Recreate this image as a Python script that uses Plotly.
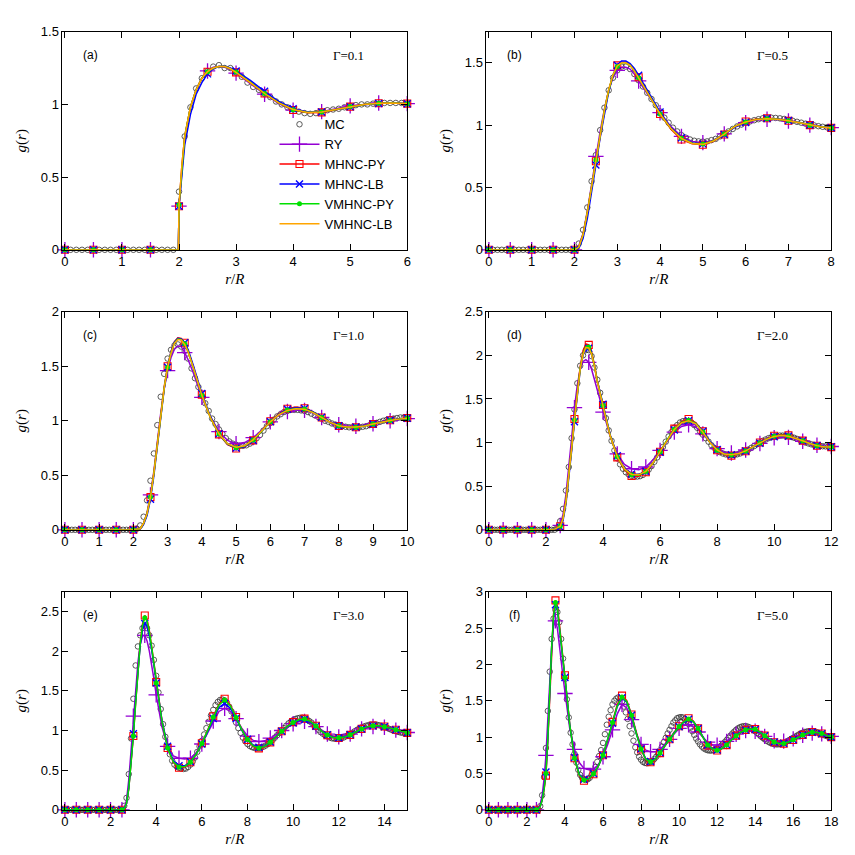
import numpy as np
import plotly.graph_objects as go

# ---------------- DATA ----------------
# MC simulation points (r/R on a 0.1 grid starting at 0)
g_mc_a = [0.0, 0.0, 0.0, 0.0, 0.0, 0.0, 0.0, 0.0, 0.0, 0.0, 0.0, 0.0, 0.0, 0.0, 0.0, 0.0, 0.0, 0.0, 0.0, 0.0,
          0.40, 0.78, 0.98, 1.11, 1.18, 1.23, 1.26, 1.27, 1.25, 1.25,
          1.22, 1.19, 1.15, 1.12, 1.10, 1.07, 1.05, 1.02, 1.0, 0.98,
          0.965, 0.95, 0.94, 0.935, 0.94, 0.95, 0.96, 0.965, 0.97, 0.98,
          0.99, 0.995, 1.0, 1.0, 1.005, 1.005, 1.01, 1.01, 1.01, 1.01, 1.005]
g_mc_b = [0.0, 0.0, 0.0, 0.0, 0.0, 0.0, 0.0, 0.0, 0.0, 0.0, 0.0, 0.0, 0.0, 0.0, 0.0, 0.0, 0.0, 0.0, 0.0, 0.0, 0.0,
          0.05, 0.16, 0.34, 0.55, 0.76, 0.96, 1.14, 1.28, 1.38,
          1.44, 1.47, 1.47, 1.45, 1.41, 1.36, 1.31, 1.26, 1.21, 1.16,
          1.11, 1.06, 1.02, 0.98, 0.95, 0.92, 0.90, 0.885, 0.875, 0.87,
          0.868, 0.87, 0.88, 0.89, 0.91, 0.93, 0.95, 0.97, 0.99, 1.005,
          1.02, 1.03, 1.04, 1.048, 1.055, 1.058, 1.06, 1.058, 1.055, 1.05,
          1.042, 1.035, 1.027, 1.02, 1.012, 1.005, 0.998, 0.992, 0.987, 0.983, 0.98]
g_mc_c = [0.0, 0.0, 0.0, 0.0, 0.0, 0.0, 0.0, 0.0, 0.0, 0.0, 0.0, 0.0, 0.0, 0.0, 0.0, 0.0, 0.0, 0.0, 0.0, 0.0, 0.0,
          0.01, 0.04, 0.12, 0.27, 0.45, 0.70, 0.96, 1.22, 1.43,
          1.57, 1.65, 1.69, 1.70, 1.68, 1.64, 1.57, 1.48, 1.39, 1.31,
          1.23, 1.16, 1.09, 1.02, 0.97, 0.92, 0.88, 0.84, 0.81, 0.79,
          0.78, 0.77, 0.77, 0.775, 0.79, 0.81, 0.84, 0.87, 0.91, 0.95,
          0.98, 1.01, 1.04, 1.06, 1.08, 1.09, 1.10, 1.10, 1.10, 1.095,
          1.09, 1.08, 1.065, 1.05, 1.035, 1.02, 1.0, 0.99, 0.975, 0.965,
          0.955, 0.95, 0.945, 0.94, 0.94, 0.94, 0.94, 0.945, 0.95, 0.96,
          0.97, 0.98, 0.99, 1.0, 1.008, 1.015, 1.02, 1.025, 1.03, 1.03, 1.03]
g_mc_d = [0.0, 0.0, 0.0, 0.0, 0.0, 0.0, 0.0, 0.0, 0.0, 0.0, 0.0, 0.0, 0.0, 0.0, 0.0, 0.0, 0.0, 0.0, 0.0, 0.0,
          0.0, 0.0, 0.0, 0.0,
          0.02, 0.10, 0.24, 0.45, 0.72, 1.05,
          1.38, 1.68, 1.88, 2.0, 2.06, 2.06, 1.99, 1.86, 1.72, 1.57,
          1.43, 1.28, 1.14, 1.02, 0.91, 0.82, 0.75, 0.70, 0.66, 0.635,
          0.62, 0.61, 0.61, 0.615, 0.63, 0.655, 0.69, 0.73, 0.78, 0.83,
          0.89, 0.95, 1.01, 1.07, 1.12, 1.17, 1.20, 1.23, 1.245, 1.25,
          1.245, 1.23, 1.20, 1.17, 1.13, 1.09, 1.05, 1.01, 0.97, 0.94,
          0.91, 0.89, 0.875, 0.865, 0.858, 0.855, 0.858, 0.865, 0.875, 0.89,
          0.905, 0.92, 0.94, 0.96, 0.98, 1.0, 1.02, 1.035, 1.05, 1.06,
          1.07, 1.075, 1.08, 1.08, 1.078, 1.073, 1.065, 1.055, 1.042, 1.03,
          1.015, 1.0, 0.99, 0.98, 0.972, 0.966, 0.962, 0.958, 0.956, 0.955, 0.955]
g_mc_e = [0.0, 0.0, 0.0, 0.0, 0.0, 0.0, 0.0, 0.0, 0.0, 0.0, 0.0, 0.0, 0.0, 0.0, 0.0, 0.0, 0.0, 0.0, 0.0, 0.0,
          0.0, 0.0, 0.0, 0.0, 0.0, 0.0,
          0.05, 0.15, 0.45, 0.90,
          1.40, 1.82, 2.06, 2.20, 2.29, 2.32, 2.29, 2.20, 2.07, 1.89,
          1.69, 1.48, 1.27, 1.08, 0.92, 0.80, 0.70, 0.62, 0.57, 0.545,
          0.53, 0.52, 0.515, 0.52, 0.54, 0.57, 0.61, 0.66, 0.73, 0.80,
          0.87, 0.95, 1.03, 1.11, 1.19, 1.26, 1.32, 1.36, 1.385, 1.39,
          1.38, 1.35, 1.30, 1.24, 1.17, 1.10, 1.03, 0.97, 0.91, 0.865,
          0.83, 0.805, 0.79, 0.78, 0.778, 0.78, 0.785, 0.795, 0.81, 0.83,
          0.855, 0.88, 0.91, 0.94, 0.97, 1.0, 1.03, 1.06, 1.09, 1.11,
          1.13, 1.145, 1.155, 1.16, 1.16, 1.155, 1.14, 1.12, 1.10, 1.07,
          1.04, 1.01, 0.98, 0.96, 0.94, 0.925, 0.912, 0.902, 0.897, 0.895,
          0.897, 0.902, 0.91, 0.925, 0.94, 0.955, 0.972, 0.99, 1.008, 1.025,
          1.04, 1.05, 1.06, 1.068, 1.073, 1.075, 1.075, 1.07, 1.063, 1.055,
          1.045, 1.035, 1.022, 1.01, 1.0, 0.99, 0.982, 0.975, 0.97, 0.965, 0.962]
g_mc_f = [0.0, 0.0, 0.0, 0.0, 0.0, 0.0, 0.0, 0.0, 0.0, 0.0, 0.0, 0.0, 0.0, 0.0, 0.0, 0.0, 0.0, 0.0, 0.0, 0.0,
          0.0, 0.0, 0.0, 0.0, 0.0, 0.0, 0.0,
          0.05, 0.20, 0.45,
          0.85, 1.36, 1.90, 2.35, 2.63, 2.75, 2.72, 2.58, 2.35, 2.08,
          1.80, 1.52, 1.27, 1.06, 0.90, 0.77, 0.65, 0.55, 0.48, 0.44,
          0.42, 0.41, 0.42, 0.44, 0.48, 0.53, 0.59, 0.66, 0.74, 0.82,
          0.92, 1.04, 1.17, 1.28, 1.37, 1.45, 1.50, 1.53, 1.545, 1.53,
          1.49, 1.42, 1.34, 1.25, 1.15, 1.05, 0.95, 0.86, 0.79, 0.73,
          0.69, 0.66, 0.645, 0.64, 0.645, 0.655, 0.67, 0.70, 0.73, 0.77,
          0.82, 0.87, 0.93, 0.99, 1.05, 1.10, 1.15, 1.20, 1.23, 1.26,
          1.27, 1.275, 1.27, 1.25, 1.22, 1.18, 1.13, 1.08, 1.03, 0.98,
          0.94, 0.90, 0.87, 0.845, 0.83, 0.82, 0.815, 0.815, 0.82, 0.83,
          0.845, 0.86, 0.88, 0.905, 0.93, 0.96, 0.99, 1.02, 1.05, 1.075,
          1.10, 1.12, 1.135, 1.145, 1.15, 1.15, 1.145, 1.135, 1.12, 1.10,
          1.08, 1.06, 1.035, 1.01, 0.99, 0.97, 0.95, 0.935, 0.92, 0.91,
          0.905, 0.90, 0.90, 0.905, 0.91, 0.92, 0.93, 0.945, 0.96, 0.975,
          0.99, 1.005, 1.02, 1.035, 1.05, 1.06, 1.07, 1.075, 1.08, 1.08,
          1.08, 1.075, 1.07, 1.06, 1.05, 1.04, 1.03, 1.02, 1.01, 1.005, 1.0]

# Theory curves: shared r/R grid per panel
r_th_a = [0, 0.5, 1, 1.5, 1.99, 2.0, 2.05, 2.1, 2.2, 2.3, 2.4, 2.5, 2.6, 2.7, 2.8, 2.9, 3.0,
          3.25, 3.5, 3.75, 4.0, 4.25, 4.5, 4.75, 5.0, 5.25, 5.5, 5.75, 6.0]
g_ry_a = [0, 0, 0, 0, 0, 0.30, 0.57, 0.77, 0.98, 1.10, 1.18, 1.23, 1.255, 1.26, 1.255, 1.24, 1.215,
          1.14, 1.07, 1.005, 0.96, 0.945, 0.95, 0.97, 0.99, 1.0, 1.01, 1.01, 1.005]
g_mpy_a = [0, 0, 0, 0, 0, 0.30, 0.58, 0.78, 0.98, 1.10, 1.18, 1.225, 1.25, 1.26, 1.26, 1.245, 1.22,
           1.15, 1.075, 1.01, 0.962, 0.942, 0.945, 0.963, 0.985, 1.0, 1.008, 1.01, 1.005]
g_mlb_a = [0, 0, 0, 0, 0, 0.30, 0.52, 0.72, 0.93, 1.07, 1.15, 1.21, 1.245, 1.26, 1.262, 1.25, 1.23,
           1.165, 1.09, 1.02, 0.97, 0.948, 0.948, 0.963, 0.983, 0.998, 1.007, 1.01, 1.005]
g_vpy_a = [0, 0, 0, 0, 0, 0.31, 0.58, 0.78, 0.98, 1.10, 1.18, 1.225, 1.25, 1.26, 1.26, 1.245, 1.222,
           1.152, 1.075, 1.01, 0.963, 0.944, 0.947, 0.965, 0.986, 1.0, 1.008, 1.01, 1.005]
g_vlb_a = [0, 0, 0, 0, 0, 0.30, 0.58, 0.78, 0.98, 1.10, 1.18, 1.225, 1.25, 1.26, 1.26, 1.245, 1.22,
           1.15, 1.075, 1.01, 0.965, 0.945, 0.948, 0.965, 0.985, 1.0, 1.008, 1.01, 1.005]

r_th_b = [0, 0.5, 1, 1.5, 2.0, 2.1, 2.2, 2.3, 2.4, 2.5, 2.6, 2.7, 2.8, 2.9, 3.0, 3.1, 3.2, 3.3, 3.4, 3.5,
          3.75, 4.0, 4.25, 4.5, 4.75, 5.0, 5.25, 5.5, 5.75, 6.0, 6.25, 6.5, 6.75, 7.0, 7.25, 7.5, 7.75, 8.0]
g_ry_b = [0, 0, 0, 0, 0, 0.03, 0.13, 0.31, 0.52, 0.75, 0.95, 1.13, 1.28, 1.38, 1.44, 1.465, 1.465, 1.45, 1.41, 1.355,
          1.23, 1.10, 0.99, 0.91, 0.87, 0.86, 0.88, 0.93, 0.985, 1.02, 1.04, 1.047, 1.045, 1.033, 1.017, 1.0, 0.988, 0.98]
g_mpy_b = [0, 0, 0, 0, 0, 0.02, 0.12, 0.30, 0.50, 0.71, 0.92, 1.11, 1.28, 1.40, 1.48, 1.505, 1.505, 1.485, 1.44, 1.385,
           1.24, 1.09, 0.97, 0.885, 0.85, 0.843, 0.87, 0.925, 0.99, 1.03, 1.05, 1.056, 1.05, 1.036, 1.018, 1.0, 0.987, 0.978]
g_mlb_b = [0, 0, 0, 0, 0, 0.01, 0.09, 0.25, 0.45, 0.68, 0.90, 1.10, 1.27, 1.40, 1.48, 1.515, 1.515, 1.495, 1.455, 1.40,
           1.255, 1.105, 0.98, 0.90, 0.858, 0.85, 0.873, 0.925, 0.985, 1.022, 1.045, 1.053, 1.05, 1.037, 1.02, 1.002, 0.99, 0.98]
g_vpy_b = [0, 0, 0, 0, 0, 0.02, 0.12, 0.30, 0.50, 0.72, 0.93, 1.12, 1.28, 1.40, 1.47, 1.50, 1.50, 1.48, 1.435, 1.38,
           1.235, 1.09, 0.975, 0.895, 0.855, 0.848, 0.875, 0.93, 0.99, 1.025, 1.045, 1.052, 1.048, 1.035, 1.018, 1.0, 0.988, 0.978]
g_vlb_b = [0, 0, 0, 0, 0, 0.02, 0.12, 0.30, 0.50, 0.72, 0.93, 1.12, 1.285, 1.405, 1.475, 1.50, 1.50, 1.48, 1.435, 1.38,
           1.235, 1.09, 0.975, 0.893, 0.853, 0.846, 0.873, 0.928, 0.99, 1.025, 1.045, 1.052, 1.048, 1.035, 1.018, 1.0, 0.988, 0.978]

r_th_c = [0, 0.5, 1, 1.5, 2.0, 2.2, 2.3, 2.4, 2.5, 2.6, 2.7, 2.8, 2.9, 3.0, 3.1, 3.2, 3.3, 3.4, 3.5, 3.6,
          3.75, 4.0, 4.25, 4.5, 4.75, 5.0, 5.25, 5.5, 5.75, 6.0, 6.25, 6.5, 6.75, 7.0, 7.25, 7.5, 7.75, 8.0,
          8.25, 8.5, 8.75, 9.0, 9.25, 9.5, 9.75, 10.0]
g_ry_c = [0, 0, 0, 0, 0, 0.01, 0.06, 0.16, 0.32, 0.54, 0.81, 1.07, 1.29, 1.46, 1.58, 1.655, 1.685, 1.68, 1.625, 1.56,
          1.44, 1.215, 1.04, 0.90, 0.82, 0.79, 0.80, 0.845, 0.915, 0.99, 1.05, 1.085, 1.10, 1.095, 1.07, 1.03, 0.99, 0.963,
          0.95, 0.95, 0.958, 0.972, 0.988, 1.0, 1.012, 1.02]
g_mpy_c = [0, 0, 0, 0, 0, 0.01, 0.06, 0.15, 0.30, 0.52, 0.80, 1.07, 1.31, 1.50, 1.635, 1.725, 1.76, 1.755, 1.715, 1.645,
           1.50, 1.24, 1.03, 0.875, 0.78, 0.745, 0.76, 0.82, 0.905, 0.995, 1.065, 1.11, 1.125, 1.115, 1.08, 1.03, 0.983, 0.952,
           0.938, 0.94, 0.952, 0.97, 0.99, 1.005, 1.017, 1.025]
g_mlb_c = [0, 0, 0, 0, 0, 0.01, 0.05, 0.13, 0.28, 0.50, 0.78, 1.05, 1.29, 1.49, 1.63, 1.72, 1.755, 1.75, 1.715, 1.65,
           1.51, 1.25, 1.04, 0.88, 0.785, 0.75, 0.762, 0.82, 0.902, 0.99, 1.06, 1.105, 1.12, 1.112, 1.08, 1.032, 0.985, 0.954,
           0.94, 0.942, 0.953, 0.97, 0.99, 1.004, 1.016, 1.023]
g_vpy_c = [0, 0, 0, 0, 0, 0.01, 0.06, 0.15, 0.30, 0.52, 0.80, 1.07, 1.30, 1.49, 1.625, 1.715, 1.75, 1.745, 1.705, 1.635,
           1.49, 1.235, 1.03, 0.878, 0.787, 0.753, 0.767, 0.823, 0.905, 0.99, 1.057, 1.098, 1.113, 1.107, 1.076, 1.03, 0.985, 0.954,
           0.941, 0.941, 0.952, 0.97, 0.988, 1.003, 1.015, 1.022]
g_vlb_c = [0, 0, 0, 0, 0, 0.01, 0.06, 0.15, 0.30, 0.52, 0.80, 1.07, 1.30, 1.49, 1.62, 1.71, 1.745, 1.74, 1.70, 1.63,
           1.49, 1.235, 1.03, 0.88, 0.79, 0.757, 0.77, 0.825, 0.905, 0.99, 1.055, 1.095, 1.11, 1.105, 1.075, 1.03, 0.985, 0.955,
           0.942, 0.942, 0.952, 0.97, 0.988, 1.003, 1.015, 1.022]

r_th_d = [0, 0.5, 1, 1.5, 2.0, 2.25, 2.5, 2.6, 2.7, 2.8, 2.9, 3.0, 3.1, 3.2, 3.3, 3.4, 3.5, 3.6, 3.7, 3.8,
          4.0, 4.25, 4.5, 4.75, 5.0, 5.25, 5.5, 5.75, 6.0, 6.25, 6.5, 6.75, 7.0, 7.25, 7.5, 7.75, 8.0,
          8.25, 8.5, 8.75, 9.0, 9.25, 9.5, 9.75, 10.0, 10.25, 10.5, 10.75, 11.0, 11.25, 11.5, 11.75, 12.0]
g_ry_d = [0, 0, 0, 0, 0, 0.0, 0.05, 0.18, 0.40, 0.70, 1.05, 1.40, 1.66, 1.84, 1.93, 1.95, 1.92, 1.84, 1.72, 1.58,
          1.35, 1.07, 0.87, 0.75, 0.70, 0.69, 0.72, 0.80, 0.91, 1.02, 1.12, 1.185, 1.205, 1.18, 1.10, 1.0, 0.93,
          0.89, 0.88, 0.89, 0.915, 0.95, 0.99, 1.03, 1.055, 1.065, 1.06, 1.04, 1.015, 0.99, 0.97, 0.958, 0.955]
g_mpy_d = [0, 0, 0, 0, 0, 0.0, 0.04, 0.13, 0.32, 0.60, 0.93, 1.27, 1.60, 1.87, 2.05, 2.13, 2.12, 2.04, 1.89, 1.71,
           1.43, 1.08, 0.83, 0.685, 0.618, 0.615, 0.66, 0.76, 0.895, 1.035, 1.16, 1.24, 1.27, 1.23, 1.13, 1.005, 0.912,
           0.862, 0.85, 0.865, 0.9, 0.95, 1.0, 1.045, 1.078, 1.09, 1.082, 1.055, 1.022, 0.99, 0.963, 0.95, 0.948]
g_mlb_d = [0, 0, 0, 0, 0, 0.0, 0.03, 0.11, 0.29, 0.57, 0.90, 1.24, 1.56, 1.83, 2.0, 2.08, 2.08, 2.01, 1.87, 1.71,
           1.44, 1.09, 0.85, 0.705, 0.64, 0.632, 0.67, 0.762, 0.89, 1.025, 1.145, 1.22, 1.25, 1.22, 1.13, 1.01, 0.92,
           0.872, 0.86, 0.873, 0.902, 0.947, 0.993, 1.037, 1.067, 1.078, 1.072, 1.05, 1.022, 0.992, 0.967, 0.955, 0.952]
g_vpy_d = [0, 0, 0, 0, 0, 0.0, 0.04, 0.13, 0.32, 0.60, 0.93, 1.26, 1.58, 1.85, 2.02, 2.10, 2.095, 2.02, 1.88, 1.705,
           1.425, 1.08, 0.838, 0.695, 0.63, 0.625, 0.667, 0.763, 0.895, 1.032, 1.152, 1.23, 1.255, 1.22, 1.122, 1.0, 0.913,
           0.868, 0.857, 0.872, 0.903, 0.95, 0.996, 1.041, 1.072, 1.083, 1.075, 1.052, 1.021, 0.99, 0.964, 0.952, 0.95]
g_vlb_d = [0, 0, 0, 0, 0, 0.0, 0.04, 0.13, 0.32, 0.60, 0.93, 1.26, 1.58, 1.84, 2.01, 2.09, 2.085, 2.01, 1.87, 1.70,
           1.42, 1.08, 0.84, 0.70, 0.635, 0.63, 0.67, 0.765, 0.895, 1.03, 1.15, 1.225, 1.25, 1.215, 1.12, 1.0, 0.915,
           0.87, 0.86, 0.875, 0.905, 0.95, 0.995, 1.04, 1.07, 1.08, 1.072, 1.05, 1.02, 0.99, 0.965, 0.953, 0.95]

r_th_e = [0, 0.5, 1, 1.5, 2.0, 2.5, 2.6, 2.7, 2.8, 2.9, 3.0, 3.1, 3.2, 3.3, 3.4, 3.5, 3.6, 3.7, 3.8, 3.9,
          4.0, 4.25, 4.5, 4.75, 5.0, 5.25, 5.5, 5.75, 6.0, 6.25, 6.5, 6.75, 7.0, 7.25, 7.5, 7.75, 8.0,
          8.25, 8.5, 8.75, 9.0, 9.25, 9.5, 9.75, 10.0, 10.25, 10.5, 10.75, 11.0, 11.25, 11.5, 11.75, 12.0,
          12.25, 12.5, 12.75, 13.0, 13.25, 13.5, 13.75, 14.0, 14.25, 14.5, 14.75, 15.0]
g_ry_e = [0, 0, 0, 0, 0, 0, 0.02, 0.12, 0.38, 0.76, 1.18, 1.55, 1.86, 2.08, 2.19, 2.2, 2.13, 2.0, 1.84, 1.65,
          1.45, 1.05, 0.80, 0.68, 0.65, 0.64, 0.65, 0.72, 0.83, 0.97, 1.12, 1.24, 1.28, 1.24, 1.15, 1.03, 0.93,
          0.875, 0.86, 0.87, 0.905, 0.95, 1.0, 1.045, 1.085, 1.11, 1.115, 1.095, 1.05, 1.0, 0.955, 0.925, 0.92,
          0.93, 0.955, 0.99, 1.02, 1.04, 1.05, 1.05, 1.04, 1.025, 1.005, 0.99, 0.975]
g_mpy_e = [0, 0, 0, 0, 0, 0, 0.01, 0.08, 0.27, 0.58, 0.93, 1.35, 1.77, 2.11, 2.34, 2.45, 2.40, 2.26, 2.06, 1.84,
           1.61, 1.13, 0.78, 0.60, 0.53, 0.54, 0.60, 0.70, 0.84, 1.0, 1.18, 1.33, 1.40, 1.32, 1.17, 1.01, 0.88,
           0.80, 0.775, 0.795, 0.85, 0.92, 0.99, 1.055, 1.105, 1.14, 1.15, 1.12, 1.06, 0.99, 0.94, 0.91, 0.905,
           0.915, 0.945, 0.985, 1.02, 1.048, 1.063, 1.062, 1.05, 1.03, 1.01, 0.99, 0.97]
g_mlb_e = [0, 0, 0, 0, 0, 0, 0.01, 0.08, 0.28, 0.60, 0.96, 1.38, 1.78, 2.08, 2.27, 2.35, 2.31, 2.19, 2.02, 1.82,
           1.60, 1.13, 0.80, 0.62, 0.555, 0.555, 0.605, 0.70, 0.83, 0.985, 1.15, 1.29, 1.34, 1.28, 1.15, 1.005, 0.89,
           0.815, 0.79, 0.805, 0.855, 0.92, 0.99, 1.05, 1.095, 1.125, 1.135, 1.105, 1.055, 0.99, 0.945, 0.915, 0.91,
           0.92, 0.948, 0.985, 1.018, 1.043, 1.057, 1.057, 1.046, 1.029, 1.01, 0.99, 0.973]
g_vpy_e = [0, 0, 0, 0, 0, 0, 0.01, 0.08, 0.27, 0.58, 0.93, 1.34, 1.75, 2.09, 2.32, 2.42, 2.38, 2.24, 2.05, 1.83,
           1.60, 1.12, 0.78, 0.605, 0.54, 0.545, 0.60, 0.70, 0.835, 0.995, 1.17, 1.32, 1.385, 1.31, 1.165, 1.01, 0.885,
           0.805, 0.78, 0.80, 0.852, 0.92, 0.99, 1.053, 1.1, 1.135, 1.145, 1.115, 1.058, 0.99, 0.942, 0.912, 0.907,
           0.917, 0.946, 0.985, 1.02, 1.046, 1.06, 1.06, 1.048, 1.03, 1.01, 0.99, 0.972]

r_th_f = [0, 0.5, 1, 1.5, 2.0, 2.5, 2.6, 2.7, 2.8, 2.9, 3.0, 3.1, 3.2, 3.3, 3.4, 3.5, 3.6, 3.7, 3.8, 3.9, 4.0, 4.1,
          4.25, 4.5, 4.75, 5.0, 5.25, 5.5, 5.75, 6.0, 6.25, 6.5, 6.75, 7.0, 7.25, 7.5, 7.75, 8.0,
          8.25, 8.5, 8.75, 9.0, 9.25, 9.5, 9.75, 10.0, 10.25, 10.5, 10.75, 11.0, 11.25, 11.5, 11.75, 12.0,
          12.25, 12.5, 12.75, 13.0, 13.25, 13.5, 13.75, 14.0, 14.25, 14.5, 14.75, 15.0,
          15.25, 15.5, 15.75, 16.0, 16.25, 16.5, 16.75, 17.0, 17.25, 17.5, 17.75, 18.0]
g_ry_f = [0, 0, 0, 0, 0, 0, 0.02, 0.08, 0.20, 0.42, 0.75, 1.22, 1.75, 2.25, 2.52, 2.60, 2.50, 2.30, 2.05, 1.82, 1.60, 1.40,
          1.12, 0.83, 0.65, 0.57, 0.55, 0.56, 0.62, 0.73, 0.90, 1.10, 1.32, 1.45, 1.40, 1.24, 1.05, 0.90,
          0.82, 0.80, 0.80, 0.83, 0.90, 0.97, 1.05, 1.12, 1.16, 1.17, 1.14, 1.07, 0.99, 0.93, 0.895, 0.89,
          0.90, 0.94, 0.99, 1.04, 1.075, 1.09, 1.09, 1.08, 1.05, 1.01, 0.975, 0.95,
          0.94, 0.945, 0.955, 0.975, 1.0, 1.025, 1.045, 1.055, 1.055, 1.045, 1.03, 1.01]
g_mpy_f = [0, 0, 0, 0, 0, 0, 0.01, 0.05, 0.13, 0.27, 0.47, 0.95, 1.62, 2.25, 2.70, 2.88, 2.80, 2.58, 2.32, 2.07, 1.85, 1.60,
           1.18, 0.71, 0.47, 0.40, 0.42, 0.49, 0.60, 0.75, 0.96, 1.21, 1.45, 1.57, 1.50, 1.31, 1.05, 0.83,
           0.69, 0.655, 0.69, 0.78, 0.88, 0.97, 1.07, 1.15, 1.22, 1.26, 1.22, 1.12, 1.0, 0.885, 0.83, 0.815,
           0.84, 0.89, 0.96, 1.02, 1.07, 1.10, 1.115, 1.11, 1.07, 1.02, 0.97, 0.93,
           0.91, 0.91, 0.93, 0.96, 1.0, 1.03, 1.055, 1.07, 1.065, 1.05, 1.03, 1.0]
g_mlb_f = [0, 0, 0, 0, 0, 0, 0.01, 0.05, 0.14, 0.30, 0.52, 1.0, 1.64, 2.22, 2.64, 2.82, 2.75, 2.54, 2.29, 2.04, 1.82, 1.58,
           1.17, 0.72, 0.49, 0.42, 0.43, 0.50, 0.60, 0.75, 0.955, 1.19, 1.42, 1.54, 1.48, 1.30, 1.05, 0.84,
           0.70, 0.665, 0.70, 0.785, 0.88, 0.97, 1.063, 1.142, 1.205, 1.245, 1.212, 1.12, 1.0, 0.892, 0.838, 0.823,
           0.845, 0.894, 0.96, 1.02, 1.066, 1.096, 1.11, 1.105, 1.068, 1.02, 0.973, 0.934,
           0.914, 0.914, 0.933, 0.963, 1.0, 1.03, 1.052, 1.066, 1.062, 1.047, 1.027, 1.0]
g_vpy_f = [0, 0, 0, 0, 0, 0, 0.01, 0.05, 0.13, 0.28, 0.50, 0.98, 1.63, 2.24, 2.67, 2.85, 2.77, 2.55, 2.29, 2.04, 1.82, 1.58,
           1.17, 0.71, 0.48, 0.41, 0.425, 0.495, 0.60, 0.75, 0.96, 1.20, 1.43, 1.55, 1.49, 1.30, 1.05, 0.835,
           0.695, 0.66, 0.695, 0.78, 0.88, 0.97, 1.065, 1.145, 1.21, 1.25, 1.215, 1.12, 1.0, 0.89, 0.835, 0.82,
           0.842, 0.892, 0.96, 1.02, 1.068, 1.098, 1.112, 1.107, 1.07, 1.02, 0.972, 0.932,
           0.912, 0.912, 0.932, 0.962, 1.0, 1.03, 1.053, 1.067, 1.063, 1.048, 1.028, 1.0]

x_max = [6, 8, 10, 12, 15, 18]
x_dtick = [1, 1, 1, 2, 2, 2]
y_max = [1.5, 1.75, 2.0, 2.5, 2.75, 3.0]
panel_tags = ["(a)", "(b)", "(c)", "(d)", "(e)", "(f)"]
gamma_labels = ["Γ=0.1", "Γ=0.5", "Γ=1.0", "Γ=2.0", "Γ=3.0", "Γ=5.0"]
series_names = ["MC", "RY", "MHNC-PY", "MHNC-LB", "VMHNC-PY", "VMHNC-LB"]

# --------------- STRUCTURE ---------------
mc_sets = [g_mc_a, g_mc_b, g_mc_c, g_mc_d, g_mc_e, g_mc_f]
r_th_sets = [r_th_a, r_th_b, r_th_c, r_th_d, r_th_e, r_th_f]
th_sets = [
    {"RY": g_ry_a, "MHNC-PY": g_mpy_a, "MHNC-LB": g_mlb_a, "VMHNC-PY": g_vpy_a, "VMHNC-LB": g_vlb_a},
    {"RY": g_ry_b, "MHNC-PY": g_mpy_b, "MHNC-LB": g_mlb_b, "VMHNC-PY": g_vpy_b, "VMHNC-LB": g_vlb_b},
    {"RY": g_ry_c, "MHNC-PY": g_mpy_c, "MHNC-LB": g_mlb_c, "VMHNC-PY": g_vpy_c, "VMHNC-LB": g_vlb_c},
    {"RY": g_ry_d, "MHNC-PY": g_mpy_d, "MHNC-LB": g_mlb_d, "VMHNC-PY": g_vpy_d, "VMHNC-LB": g_vlb_d},
    {"RY": g_ry_e, "MHNC-PY": g_mpy_e, "MHNC-LB": g_mlb_e, "VMHNC-PY": g_vpy_e},
    {"RY": g_ry_f, "MHNC-PY": g_mpy_f, "MHNC-LB": g_mlb_f, "VMHNC-PY": g_vpy_f},
]

STY = {
    "RY": dict(color="#9400D3", symbol="cross-thin-open", size=11, mlw=1.3),
    "MHNC-PY": dict(color="#FF0000", symbol="square-open", size=7, mlw=1.1),
    "MHNC-LB": dict(color="#0000FF", symbol="x-thin-open", size=7, mlw=1.4),
    "VMHNC-PY": dict(color="#00E000", symbol="circle", size=5, mlw=0),
    "VMHNC-LB": dict(color="#FFA500", symbol=None, size=0, mlw=0),
}

W = H = 855
col_px = [(54, 402), (482, 830)]
row_px = [(17, 239), (302, 524), (587, 809)]

TICKFONT = dict(family="Liberation Sans, Arial, sans-serif", size=13, color="black")
MATHFONT = dict(family="Liberation Serif, Times New Roman, serif", size=15, color="black")

fig = go.Figure()
annotations = []

for p in range(6):
    ci, ri = p % 2, p // 2
    L, R = col_px[ci]
    T, B = row_px[ri]
    ax = "" if p == 0 else str(p + 1)
    xref, yref = "x" + ax, "y" + ax
    xm = x_max[p]
    fig.update_layout(**{
        "xaxis" + ax: dict(
            domain=[L / W, R / W], anchor=yref, range=[-0.007 * xm, xm],
            tick0=0, dtick=x_dtick[p], ticks="inside", ticklen=6, tickwidth=1, tickcolor="black",
            showline=True, linecolor="black", linewidth=1, mirror="ticks",
            showgrid=False, zeroline=False, tickfont=TICKFONT,
            title=dict(text="<i>r</i>/<i>R</i>", font=MATHFONT, standoff=5)),
        "yaxis" + ax: dict(
            domain=[1 - B / H, 1 - T / H], anchor=xref, range=[0, y_max[p]],
            tick0=0, dtick=0.5, ticks="inside", ticklen=6, tickwidth=1, tickcolor="black",
            showline=True, linecolor="black", linewidth=1, mirror="ticks",
            showgrid=False, zeroline=False, tickfont=TICKFONT,
            title=dict(text="<i>g</i>(<i>r</i>)", font=MATHFONT, standoff=10)),
    })

    # MC points
    g_mc = mc_sets[p]
    r_mc = np.round(np.arange(len(g_mc)) * 0.1, 2)
    fig.add_trace(go.Scatter(
        x=r_mc, y=g_mc, mode="markers", name="MC", legendgroup="MC", showlegend=(p == 0),
        marker=dict(symbol="circle-open", size=5.5, color="#333333", line=dict(width=0.8)),
        xaxis=xref, yaxis=yref, cliponaxis=False))

    # theory curves
    r_th = r_th_sets[p]
    sel = [i for i, r in enumerate(r_th) if abs(r * 2 - round(r * 2)) < 1e-6]
    for name in series_names[1:]:
        if name not in th_sets[p]:
            continue
        g = th_sets[p][name]
        n = min(len(r_th), len(g))
        s = STY[name]
        if s["symbol"] is None:
            fig.add_trace(go.Scatter(
                x=r_th[:n], y=g[:n], mode="lines", name=name, legendgroup=name,
                showlegend=(p == 0), line=dict(color=s["color"], width=1.5),
                xaxis=xref, yaxis=yref, cliponaxis=False))
        else:
            fig.add_trace(go.Scatter(
                x=r_th[:n], y=g[:n], mode="lines+markers", name=name, legendgroup=name,
                showlegend=(p == 0), line=dict(color=s["color"], width=1.5),
                marker=dict(symbol=s["symbol"], size=s["size"], color=s["color"],
                            line=dict(width=s["mlw"], color=s["color"])),
                selectedpoints=[i for i in sel if i < n],
                unselected=dict(marker=dict(opacity=0)),
                xaxis=xref, yaxis=yref, cliponaxis=False))

    # panel tag and coupling label
    annotations.append(dict(text=panel_tags[p], x=(L + 28) / W, y=1 - (T + 24) / H,
                            xref="paper", yref="paper", showarrow=False,
                            xanchor="center", yanchor="middle",
                            font=dict(family="Liberation Sans, Arial, sans-serif", size=12, color="black")))
    annotations.append(dict(text=gamma_labels[p], x=(R - 59) / W, y=1 - (T + 24) / H,
                            xref="paper", yref="paper", showarrow=False,
                            xanchor="center", yanchor="middle",
                            font=dict(family="Liberation Serif, Times New Roman, serif", size=13, color="black")))

fig.update_layout(
    width=W, height=H, margin=dict(l=0, r=0, t=0, b=0),
    paper_bgcolor="white", plot_bgcolor="white",
    annotations=annotations,
    showlegend=True,
    legend=dict(x=268 / W, y=1 - 96 / H, xanchor="left", yanchor="top",
                bgcolor="rgba(0,0,0,0)", borderwidth=0, tracegroupgap=0,
                font=dict(family="Liberation Sans, Arial, sans-serif", size=13, color="black"),
                itemwidth=40),
)

fig.write_html("out.html")
